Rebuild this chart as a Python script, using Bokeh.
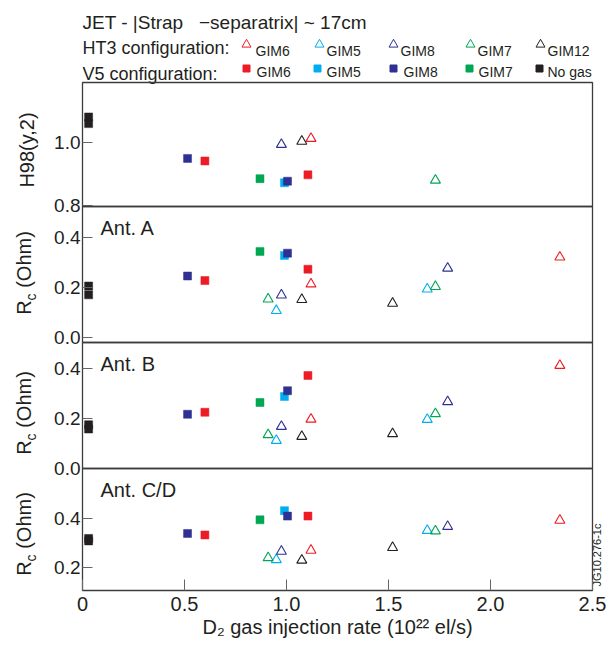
from bokeh.plotting import figure
from bokeh.models import Range1d, FixedTicker, Label, PrintfTickFormatter, Div
from bokeh.layouts import column
from bokeh.embed import file_html
from bokeh.resources import INLINE

NaN = float("nan")

# ---------------- data (x = D2 gas injection rate, 1e22 el/s) ----------------
# HT3 configuration (open triangles)
ht3_gim6_x = [1.12, 2.34]
ht3_gim6_h98 = [1.012, NaN]
ht3_gim6_ant_a = [0.213, 0.320]
ht3_gim6_ant_b = [0.197, 0.412]
ht3_gim6_ant_cd = [0.270, 0.391]

ht3_gim5_x = [0.95, 1.69]
ht3_gim5_h98 = [NaN, NaN]
ht3_gim5_ant_a = [0.107, 0.193]
ht3_gim5_ant_b = [0.112, 0.196]
ht3_gim5_ant_cd = [0.232, 0.350]

ht3_gim8_x = [0.975, 1.79]
ht3_gim8_h98 = [0.993, NaN]
ht3_gim8_ant_a = [0.169, 0.276]
ht3_gim8_ant_b = [0.168, 0.267]
ht3_gim8_ant_cd = [0.266, 0.366]

ht3_gim7_x = [0.91, 1.73]
ht3_gim7_h98 = [NaN, 0.880]
ht3_gim7_ant_a = [0.153, 0.203]
ht3_gim7_ant_b = [0.135, 0.219]
ht3_gim7_ant_cd = [0.240, 0.348]

ht3_gim12_x = [1.075, 1.52]
ht3_gim12_h98 = [1.003, NaN]
ht3_gim12_ant_a = [0.151, 0.136]
ht3_gim12_ant_b = [0.128, 0.139]
ht3_gim12_ant_cd = [0.230, 0.281]

# V5 configuration (filled squares)
v5_gim6_x = [0.60, 1.105]
v5_gim6_h98 = [0.941, 0.897]
v5_gim6_ant_a = [0.227, 0.272]
v5_gim6_ant_b = [0.225, 0.372]
v5_gim6_ant_cd = [0.332, 0.408]

v5_gim5_x = [0.99]
v5_gim5_h98 = [0.872]
v5_gim5_ant_a = [0.327]
v5_gim5_ant_b = [0.288]
v5_gim5_ant_cd = [0.430]

v5_gim8_x = [0.515, 1.005]
v5_gim8_h98 = [0.949, 0.877]
v5_gim8_ant_a = [0.245, 0.336]
v5_gim8_ant_b = [0.217, 0.311]
v5_gim8_ant_cd = [0.338, 0.408]

v5_gim7_x = [0.87]
v5_gim7_h98 = [0.885]
v5_gim7_ant_a = [0.343]
v5_gim7_ant_b = [0.264]
v5_gim7_ant_cd = [0.393]

v5_nogas_x = [0.03, 0.03]
v5_nogas_h98 = [1.080, 1.059]
v5_nogas_ant_a = [0.205, 0.170]
v5_nogas_ant_b = [0.175, 0.158]
v5_nogas_ant_cd = [0.318, 0.308]

# legend / labels
ht3_labels = ["GIM6", "GIM5", "GIM8", "GIM7", "GIM12"]
v5_labels = ["GIM6", "GIM5", "GIM8", "GIM7", "No gas"]
series_colors = ["#ed1c24", "#00aeef", "#2e3192", "#00a651", "#231f20"]

panel_keys = ["h98", "ant_a", "ant_b", "ant_cd"]
panel_names = [None, "Ant. A", "Ant. B", "Ant. C/D"]
panel_ylabels = ["H98(y,2)", "R<sub>c</sub> (Ohm)", "R<sub>c</sub> (Ohm)", "R<sub>c</sub> (Ohm)"]
panel_ranges = [(0.797, 1.189), (-0.02, 0.522), (0.0, 0.504), (0.108, 0.600)]
panel_ticks = [[0.8, 1.0], [0.0, 0.2, 0.4], [0.0, 0.2, 0.4], [0.2, 0.4]]
x_ticks = [0, 0.5, 1.0, 1.5, 2.0, 2.5]

title_text = "JET - |Strap\u00a0\u00a0\u00a0\u2212separatrix| ~ 17cm"
x_label = "D\u2082 gas injection rate (10\u00b2\u00b2 el/s)"
stamp_text = "JG10.276-1c"

ht3_series = [
    (ht3_gim6_x, {"h98": ht3_gim6_h98, "ant_a": ht3_gim6_ant_a, "ant_b": ht3_gim6_ant_b, "ant_cd": ht3_gim6_ant_cd}),
    (ht3_gim5_x, {"h98": ht3_gim5_h98, "ant_a": ht3_gim5_ant_a, "ant_b": ht3_gim5_ant_b, "ant_cd": ht3_gim5_ant_cd}),
    (ht3_gim8_x, {"h98": ht3_gim8_h98, "ant_a": ht3_gim8_ant_a, "ant_b": ht3_gim8_ant_b, "ant_cd": ht3_gim8_ant_cd}),
    (ht3_gim7_x, {"h98": ht3_gim7_h98, "ant_a": ht3_gim7_ant_a, "ant_b": ht3_gim7_ant_b, "ant_cd": ht3_gim7_ant_cd}),
    (ht3_gim12_x, {"h98": ht3_gim12_h98, "ant_a": ht3_gim12_ant_a, "ant_b": ht3_gim12_ant_b, "ant_cd": ht3_gim12_ant_cd}),
]
v5_series = [
    (v5_gim6_x, {"h98": v5_gim6_h98, "ant_a": v5_gim6_ant_a, "ant_b": v5_gim6_ant_b, "ant_cd": v5_gim6_ant_cd}),
    (v5_gim5_x, {"h98": v5_gim5_h98, "ant_a": v5_gim5_ant_a, "ant_b": v5_gim5_ant_b, "ant_cd": v5_gim5_ant_cd}),
    (v5_gim8_x, {"h98": v5_gim8_h98, "ant_a": v5_gim8_ant_a, "ant_b": v5_gim8_ant_b, "ant_cd": v5_gim8_ant_cd}),
    (v5_gim7_x, {"h98": v5_gim7_h98, "ant_a": v5_gim7_ant_a, "ant_b": v5_gim7_ant_b, "ant_cd": v5_gim7_ant_cd}),
    (v5_nogas_x, {"h98": v5_nogas_h98, "ant_a": v5_nogas_ant_a, "ant_b": v5_nogas_ant_b, "ant_cd": v5_nogas_ant_cd}),
]

# ---------------- styling / layout ----------------
FONT = "Liberation Sans"
TXT = "#231f20"
FRAME_LINE = "#3c3c3c"
M = 11
FRAME_W = 510
BORDER_L = 74
BORDER_R = 16
HDR_H = 74          # header band height (page y 8..82)
HDR_EXTRA = 10      # extra header space, overlapped by the first panel
panel_frame_h = [124, 136, 126, 122]
TOTAL_H = 632

# rotated y-axis titles and the stamp (HTML text, positioned in the layout box)
ylabel_pos = [(19, 142), (18, 265), (18, 405), (18, 526)]
stamp_pos = (589, 547)


def rot_html(x, y, html, size):
    return ('<div style="position:absolute;left:%dpx;top:%dpx;'
            'transform:translate(-50%%,-50%%) rotate(-90deg);white-space:nowrap;'
            'font-family:\'Liberation Sans\';font-size:%s;line-height:1;color:%s;">%s</div>'
            % (x, y, size, TXT, html))


overlay_html = '<div style="position:relative;width:600px;height:%dpx;">' % TOTAL_H
for (lx, ly), lab in zip(ylabel_pos, panel_ylabels):
    overlay_html += rot_html(lx, ly, lab.replace("<sub>", '<sub style="font-size:14px">'), "20px")
overlay_html += rot_html(stamp_pos[0], stamp_pos[1], stamp_text, "11px")
overlay_html += "</div>"
overlay = Div(text=overlay_html, width=600, height=TOTAL_H, margin=(0, 0, -TOTAL_H, 0),
              styles={"position": "relative"})

# ---------------- header (title + legend) ----------------
hdr_h = HDR_H + HDR_EXTRA
hdr = figure(frame_width=FRAME_W, frame_height=hdr_h, x_range=Range1d(0, FRAME_W), y_range=Range1d(hdr_h, 0),
             output_backend="svg", toolbar_location=None,
             min_border_left=BORDER_L, min_border_right=BORDER_R, min_border_top=0, min_border_bottom=0,
             x_axis_type=None, y_axis_type=None)
hdr.grid.visible = False
hdr.outline_line_color = None
hdr.background_fill_color = None
hdr.border_fill_color = None


def hdr_text(x, y, text, size):
    hdr.add_layout(Label(x=x, y=y, text=text, text_font=FONT, text_font_size=size,
                         text_color=TXT, text_align="left", text_baseline="alphabetic"))


hdr_text(0, 13.7, title_text, "19px")
hdr_text(0, 39, "HT3 configuration:", "18px")
hdr_text(0, 65.7, "V5 configuration:", "18px")

tri_x = [164, 237, 311, 388, 458]
tri_lab_x = [173, 244, 318, 395, 465]
sq_x = [164, 235, 311, 387, 457]
sq_lab_x = [174, 244, 321, 396, 465]
hdr.scatter(tri_x, [36] * 5, marker="triangle", size=9, fill_color=None,
            line_color=series_colors, line_width=1.0)
hdr.scatter(sq_x, [60] * 5, marker="square", size=7, fill_color=series_colors,
            line_color=series_colors)
for xx, lab in zip(tri_lab_x, ht3_labels):
    hdr_text(xx, 42, lab, "14px")
for xx, lab in zip(sq_lab_x, v5_labels):
    hdr_text(xx, 63.7, lab, "14px")

# ---------------- panels ----------------
panels = []
n = len(panel_keys)
for i, key in enumerate(panel_keys):
    first = i == 0
    last = i == n - 1
    top_b = 2 if first else M
    bot_b = 58 if last else M
    y0, y1 = panel_ranges[i]
    p = figure(frame_width=FRAME_W, frame_height=panel_frame_h[i],
               x_range=Range1d(0, 2.5), y_range=Range1d(y0, y1),
               output_backend="svg", toolbar_location=None,
               min_border_left=BORDER_L, min_border_right=BORDER_R,
               min_border_top=top_b, min_border_bottom=bot_b)
    p.grid.visible = False
    p.background_fill_color = None
    p.border_fill_color = None
    p.outline_line_color = FRAME_LINE
    p.outline_line_width = 1.3

    ya = p.yaxis[0]
    ya.ticker = FixedTicker(ticks=panel_ticks[i])
    ya.formatter = PrintfTickFormatter(format="%.1f")
    ya.axis_line_color = None
    ya.major_tick_in = 10
    ya.major_tick_out = 0
    ya.major_tick_line_color = "#666666"
    ya.minor_tick_line_color = None
    ya.major_label_standoff = 2
    ya.major_label_text_font = FONT
    ya.major_label_text_font_size = "19px"
    ya.major_label_text_color = TXT

    xa = p.xaxis[0]
    if last:
        xa.ticker = FixedTicker(ticks=x_ticks)
        xa.formatter = PrintfTickFormatter(format="%.1f")
        xa.major_label_overrides = {0: "0"}
        xa.axis_line_color = None
        xa.major_tick_in = 11
        xa.major_tick_out = 0
        xa.major_tick_line_color = "#666666"
        xa.minor_tick_line_color = None
        xa.major_label_standoff = 6
        xa.major_label_text_font = FONT
        xa.major_label_text_font_size = "20px"
        xa.major_label_text_color = TXT
        xa.axis_label = x_label
        xa.axis_label_text_font = FONT
        xa.axis_label_text_font_size = "20px"
        xa.axis_label_text_font_style = "normal"
        xa.axis_label_text_color = TXT
        xa.axis_label_standoff = 2
    else:
        xa.visible = False

    # data: open triangles (HT3) then filled squares (V5)
    for (xs, ys), col in zip(ht3_series, series_colors):
        p.scatter(xs, ys[key], marker="triangle", size=10, fill_color=None,
                  line_color=col, line_width=1.1)
    for (xs, ys), col in zip(v5_series, series_colors):
        p.scatter(xs, ys[key], marker="square", size=8, fill_color=col,
                  line_color=col, line_width=0.5)

    if panel_names[i]:
        p.add_layout(Label(x=0, y=y1, x_offset=18, y_offset=-21, text=panel_names[i],
                           text_font=FONT, text_font_size="20px", text_color=TXT,
                           text_baseline="alphabetic", text_align="left"))

    top_margin = -(top_b + HDR_EXTRA) if first else -top_b
    p.margin = (top_margin, 0, -8 if last else -bot_b, 0)
    panels.append(p)

layout = column(overlay, hdr, *panels, spacing=0, margin=(8, 0, 0, 8))
open("out.html", "w").write(file_html(layout, INLINE))
